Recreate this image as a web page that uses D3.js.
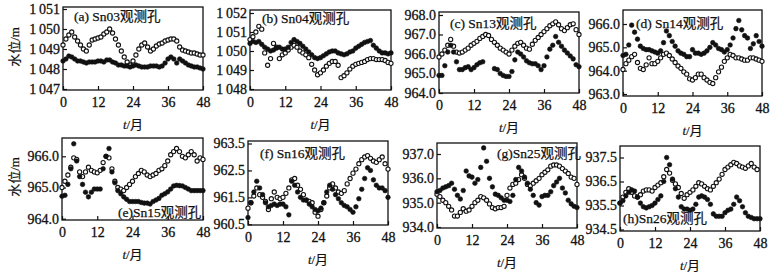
<!DOCTYPE html>
<html>
<head>
<meta charset="utf-8">
<script src="https://cdnjs.cloudflare.com/ajax/libs/d3/7.8.5/d3.min.js"></script>
<style>
    body { margin: 0; background: #fff; }
    svg { display: block; }
    .axis text { font-family: "Liberation Serif", "DejaVu Serif", serif; font-size: 14px; fill: #111; stroke: #111; stroke-width: 0.3; }
    .axis line { stroke: #111; stroke-width: 1.2; }
    .axis path { display: none; }
    .frame { fill: none; stroke: #111; stroke-width: 1.3; }
    .title { font-family: "Liberation Serif", "Noto Sans CJK SC", serif; font-size: 13.5px; fill: #111; stroke: #111; stroke-width: 0.25; }
    .label { font-family: "Liberation Serif", "Noto Sans CJK SC", serif; font-size: 13px; fill: #111; stroke: #111; stroke-width: 0.2; }
    .open { fill: #fff; stroke: #111; stroke-width: 1.1; }
    .filled { fill: #111; stroke: #111; stroke-width: 0.6; }
</style>
</head>
<body>
<div id="vis"></div>
<script>
// months 0..48 (x axis) and the ticks shown on it
var months = d3.range(0, 49);
var monthTicks = [0, 12, 24, 36, 48];

// water levels, one value per month (null = no reading)
var sn03Open = [1049.2, 1049.5, 1049.7, 1049.85, 1049.6, 1049.4, 1049.2, 1049.0, 1048.9, 1049.2,
    1049.45, 1049.5, 1049.55, 1049.6, 1049.75, 1049.85, 1050.0, 1049.8, 1049.5, 1049.2,
    1048.9, 1048.6, 1048.35, 1048.2, 1048.4, 1048.7, 1049.0, 1049.2, 1049.3, 1049.1,
    1048.9, 1049.0, 1049.15, 1049.25, 1049.3, 1049.4, 1049.45, 1049.5, 1049.5, 1049.4,
    1049.1, 1048.95, 1048.9, 1048.85, 1048.8, 1048.8, 1048.75, 1048.7, 1048.7];
var sn03Filled = [1048.4, 1048.5, 1048.65, 1048.6, 1048.5, 1048.4, 1048.4, 1048.35, 1048.3, 1048.35,
    1048.35, 1048.35, 1048.4, 1048.4, 1048.35, 1048.45, 1048.45, 1048.35, 1048.3, 1048.2,
    1048.2, 1048.15, 1048.15, 1048.1, 1048.15, 1048.2, 1048.15, 1048.1, 1048.1, 1048.1,
    1048.15, 1048.15, 1048.15, 1048.1, 1048.15, 1048.3, 1048.5, 1048.6, 1048.5, 1048.3,
    1048.5, 1048.4, 1048.3, 1048.2, 1048.15, 1048.1, 1048.1, 1048.05, 1048.0];

var sn04Open = [1050.6, 1050.75, 1051.0, 1051.3, 1051.15, 1049.9, 1049.25, 1049.6, 1050.4, 1050.2,
    1049.6, 1049.8, 1049.9, 1050.05, 1050.2, 1050.3, 1050.2, 1050.0, 1049.9, 1049.8,
    1049.65, 1049.3, 1049.0, 1048.75, 1048.85, 1049.0, 1049.2, 1049.35, 1049.45, 1049.45,
    1049.25, 1048.6, 1048.7, 1048.85, 1049.05, 1049.2, 1049.3, 1049.35, 1049.4, 1049.45,
    1049.55, 1049.6, 1049.6, 1049.55, 1049.55, 1049.55, 1049.5, 1049.4, 1049.35];
var sn04Filled = [1050.4, 1050.5, 1050.45, 1050.5, 1050.35, 1050.2, 1050.1, 1050.0, 1050.05, 1050.15,
    1050.2, 1050.1, 1050.1, 1050.2, 1050.45, 1050.6, 1050.5, 1050.4, 1050.25, 1050.1,
    1049.95, 1049.8, 1049.65, 1049.6, 1049.65, 1049.75, 1049.85, 1049.95, 1050.0, 1050.0,
    1049.9, 1049.85, 1049.8, 1049.85, 1049.95, 1050.0, 1050.15, 1050.25, 1050.35, 1050.45,
    1050.5, 1050.55, 1050.3, 1050.15, 1050.0, 1049.9, 1049.9, 1049.85, 1049.9];

var sn13Open = [965.85, 966.0, 966.2, 966.45, 966.75, 966.4, 966.1, 966.05, 966.1, 966.2,
    966.3, 966.45, 966.55, 966.65, 966.8, 966.9, 967.0, 966.95, 966.75, 966.6,
    966.45, 966.3, 966.2, 966.1, 966.0, 966.2, 966.4, 966.55, 966.6, 966.45,
    966.3, 966.25, 966.5, 966.7, 966.85, 967.0, 967.15, 967.3, 967.45, 967.55,
    967.65, 967.5, 967.3, 967.2, 967.35, 967.5, 967.55, 967.25, 967.0];
var sn13Filled = [964.9, 964.9, 965.4, 966.1, 966.45, 966.1, 965.6, 965.2, 965.2, 965.3,
    965.35, 965.2, 965.3, 965.45, 965.55, 965.6, null, null, null, 965.25,
    965.2, 965.0, 964.9, 964.85, 964.85, 965.1, 965.7, 966.1, 966.0, 965.85,
    965.65, 965.55, 965.5, 965.5, 965.4, 965.2, 965.4, 965.85, 966.25, 966.45,
    966.9, 966.6, 966.4, 966.2, 966.05, 965.9, 965.75, 965.45, 965.35];

var sn14Open = [964.05, 964.3, 964.45, 964.6, 964.7, 964.35, 964.1, 964.05, 964.25, 964.55,
    964.3, 964.3, 964.4, 964.55, 964.7, 964.75, 964.65, 964.5, 964.35, 964.2,
    964.1, 963.95, 963.85, 963.65, 963.6, 963.7, 963.85, 963.85, 963.7, 963.6,
    963.5, 963.45, 963.7, 963.95, 964.15, 964.4, 964.55, 964.7, 964.65, 964.55,
    964.55, 964.5, 964.45, 964.45, 964.55, 964.55, 964.5, 964.45, 964.4];
var sn14Filled = [964.65, 964.7, 965.1, 965.95, 965.65, 965.35, 965.05, 964.95, 964.9, 964.9,
    964.85, 964.8, 964.75, 964.85, 965.2, 965.7, 965.5, 965.25, 965.05, 964.85,
    964.75, 964.7, 964.6, 964.6, 964.9, 964.75, 964.75, 964.7, 964.75, 964.85,
    965.0, 965.2, 965.1, 964.95, 964.9, 964.8, 964.9, 965.1, 965.4, 965.8,
    966.15, 965.75, 965.5, 965.4, 964.95, 965.15, 965.5, 965.25, 965.05];

var sn15Open = [965.0, 965.2, 965.4, 965.65, 965.95, 965.9, 965.5, 965.35, 965.5, 965.65,
    965.55, 965.5, 965.47, 965.55, 965.8, 966.0, 965.95, 965.6, 965.2, 965.0,
    964.95, 964.9, 965.0, 965.1, 965.2, 965.35, 965.45, 965.55, 965.5, 965.4,
    965.35, 965.4, 965.45, 965.55, 965.6, 965.7, 965.85, 966.05, 966.15, 966.25,
    966.15, 966.0, 965.95, 966.05, 966.15, 966.05, 965.85, 965.95, 965.9];
var sn15Filled = [964.72, 964.75, 965.1, 965.6, 966.4, 965.85, 965.35, 965.1, 964.85, 964.7,
    964.85, 964.95, 964.95, 964.95, 965.6, 966.0, 966.25, 965.5, 965.15, 964.9,
    964.8, 964.7, 964.62, 964.55, 964.55, 964.55, 964.55, 964.52, 964.5, 964.5,
    964.47, 964.55, 964.6, 964.65, 964.75, 964.8, 964.86, 964.95, 965.05, 965.07,
    965.06, 965.05, 965.0, 964.95, 964.9, 964.9, 964.9, 964.9, 964.9];

var sn16Open = [961.1, 961.3, 961.55, 961.85, 961.6, 961.5, 961.35, 961.05, 961.45, 961.7,
    961.5, 961.45, 961.5, 961.65, 961.85, 962.15, 962.2, 961.95, 961.8, 961.6,
    961.4, 961.35, 961.3, 960.95, 960.8, 961.05, 961.3, 961.55, 961.85, 962.0,
    961.85, 961.7, 961.65, 961.75, 962.0, 962.2, 962.4, 962.55, 962.75, 962.9,
    963.0, 963.05, 962.95, 962.85, 962.8, 962.9, 963.0, 962.75, 962.55];
var sn16Filled = [960.75, 961.3, 961.7, 962.1, 961.85, 961.6, 961.3, 961.15, 961.2, 961.25,
    961.2, 961.25, 961.25, 961.15, 960.85, 962.1, 961.95, 961.7, 961.5, 961.4,
    961.4, 961.25, 961.15, 961.05, 961.0, 961.1, 961.3, 961.7, 961.95, 961.8,
    961.6, 961.45, 961.3, 961.2, 961.15, 961.05, 960.95, 961.15, 961.45, 961.8,
    962.2, 962.6, 962.5, 962.15, 961.95, 961.85, 961.85, 961.75, 961.5];

var sn25Open = [935.35, 935.25, 935.1, 935.0, 934.85, 934.7, 934.45, 934.45, 934.6, 934.75,
    934.65, 934.7, 934.85, 935.0, 935.1, 935.25, 935.2, 935.1, 934.95, 934.8,
    934.75, 934.8, 934.8, 934.85, 935.3, 935.6, 935.75, 935.8, 935.95, 936.15,
    936.0, 935.75, 935.7, 935.8, 935.9, 936.0, 936.15, 936.25, 936.35, 936.5,
    936.55, 936.55, 936.5, 936.4, 936.3, 936.2, 936.05, 936.0, 935.75];
var sn25Filled = [935.45, 935.5, 935.6, 935.65, 935.7, 935.8, 935.55, 935.3, 935.15, 935.5,
    936.3, 936.1, 936.05, 935.8, 935.95, 936.45, 937.25, 936.7, 936.0, 935.65,
    935.35, 935.3, 935.2, 935.1, 935.1, 935.05, 935.3, 935.95, 936.45, 936.3,
    936.05, 935.8, 935.55, 935.3, 935.0, 934.9, 935.25, 935.3, 935.3, 935.45,
    935.7, 935.85, 936.0, 935.6, 935.4, 935.1, 934.95, 934.85, 934.8];

var sn26Open = [935.6, 935.85, 936.05, 936.2, 936.05, 935.9, 935.85, 935.95, 936.1, 936.15,
    936.15, 936.1, 936.25, 936.35, 936.45, 936.7, 937.0, 936.85, 936.55, 936.4,
    936.25, 936.0, 935.8, 935.95, 936.05, 936.15, 936.3, 936.45, 936.4, 936.3,
    936.2, 936.15, 936.3, 936.45, 936.6, 936.8, 937.0, 937.1, 937.2, 937.3,
    937.25, 937.15, 937.1, 937.05, 937.15, 937.25, 937.1, 937.0, null];
var sn26Filled = [935.6, 935.7, 935.9, 936.05, 936.15, 936.1, 935.85, 935.6, 935.45, 935.4,
    935.45, 935.5, 935.6, 935.75, 935.9, 936.5, 937.5, 937.2, 936.6, 936.2,
    935.85, 935.45, 935.35, 935.35, 935.3, 935.35, 935.55, 935.85, 935.9, 935.85,
    935.75, 935.55, 935.15, 935.05, 935.05, 935.05, 935.2, 935.3, 935.35, 935.55,
    935.85, 935.7, 935.45, 935.2, 935.05, 935.0, 934.95, 934.95, 934.95];

// y tick values and their printed labels for each well
var sn03Ticks = [1047, 1048, 1049, 1050, 1051];
var sn03TickLabels = ['1\u2009047', '1\u2009048', '1\u2009049', '1\u2009050', '1\u2009051'];
var sn04Ticks = [1048, 1049, 1050, 1051, 1052];
var sn04TickLabels = ['1\u2009048', '1\u2009049', '1\u2009050', '1\u2009051', '1\u2009052'];
var sn13Ticks = [964, 965, 966, 967, 968];
var sn14Ticks = [963, 964, 965, 966];
var sn15Ticks = [964, 965, 966];
var sn16Ticks = [960.5, 961.5, 962.5, 963.5];
var sn25Ticks = [934, 935, 936, 937];
var sn26Ticks = [934.5, 935.5, 936.5, 937.5];

var titles = ['(a) Sn03观测孔', '(b) Sn04观测孔', '(c) Sn13观测孔', '(d) Sn14观测孔',
    '(e)Sn15观测孔', '(f) Sn16观测孔', '(g)Sn25观测孔', '(h)Sn26观测孔'];

var fmt1 = d3.format('.1f');
var panels = [
    {open: sn03Open, filled: sn03Filled, ticks: sn03Ticks, labels: sn03TickLabels},
    {open: sn04Open, filled: sn04Filled, ticks: sn04Ticks, labels: sn04TickLabels},
    {open: sn13Open, filled: sn13Filled, ticks: sn13Ticks, labels: sn13Ticks.map(fmt1)},
    {open: sn14Open, filled: sn14Filled, ticks: sn14Ticks, labels: sn14Ticks.map(fmt1)},
    {open: sn15Open, filled: sn15Filled, ticks: sn15Ticks, labels: sn15Ticks.map(fmt1)},
    {open: sn16Open, filled: sn16Filled, ticks: sn16Ticks, labels: sn16Ticks.map(fmt1)},
    {open: sn25Open, filled: sn25Filled, ticks: sn25Ticks, labels: sn25Ticks.map(fmt1)},
    {open: sn26Open, filled: sn26Filled, ticks: sn26Ticks, labels: sn26Ticks.map(fmt1)}
];

// Frame of each panel in pixels; yTop/yBottom = pixel rows of the first/last y tick
var boxes = [
    {left: 63, right: 203, top: 7, bottom: 90, yTop: 9, yBottom: 89, tx: 74, ty: 21},
    {left: 250, right: 391, top: 10, bottom: 90, yTop: 13, yBottom: 89, tx: 262, ty: 23},
    {left: 439, right: 579, top: 12, bottom: 93, yTop: 15, yBottom: 93, tx: 450, ty: 28},
    {left: 623, right: 762, top: 10, bottom: 96, yTop: 24, yBottom: 94, tx: 636, ty: 28},
    {left: 62, right: 203, top: 138, bottom: 220, yTop: 156.3, yBottom: 218.7, tx: 118, ty: 217},
    {left: 248, right: 388, top: 141, bottom: 225, yTop: 143.5, yBottom: 224.3, tx: 260, ty: 158},
    {left: 437, right: 577, top: 143, bottom: 228, yTop: 154, yBottom: 227, tx: 497, ty: 158},
    {left: 620, right: 760, top: 146, bottom: 231, yTop: 157.5, yBottom: 229.5, tx: 623, ty: 223}
];

var width = 784;
var height = 274;

var svg = d3.select('#vis')
    .append('svg')
    .attr('width', width)
    .attr('height', height);

svg.append('rect').attr('width', width).attr('height', height).attr('fill', '#fff');

panels.forEach(function(p, i) {
    var b = boxes[i];
    var g = svg.append('g');

    var xScale = d3.scaleLinear().domain([0, 48]).range([b.left, b.right]);
    var yScale = d3.scaleLinear()
        .domain([p.ticks[0], p.ticks[p.ticks.length - 1]])
        .range([b.yBottom, b.yTop]);

    // frame
    g.append('rect')
        .attr('class', 'frame')
        .attr('x', b.left)
        .attr('y', b.top)
        .attr('width', b.right - b.left)
        .attr('height', b.bottom - b.top);

    // inward ticks
    var xAxis = d3.axisBottom(xScale)
        .tickValues(monthTicks)
        .tickSize(-4)
        .tickPadding(7);
    g.append('g')
        .attr('class', 'axis')
        .attr('transform', 'translate(0,' + b.bottom + ')')
        .call(xAxis);

    var yAxis = d3.axisLeft(yScale)
        .tickValues(p.ticks)
        .tickSize(-4)
        .tickPadding(3)
        .tickFormat(function(d, k) { return p.labels[k]; });
    g.append('g')
        .attr('class', 'axis')
        .attr('transform', 'translate(' + b.left + ',0)')
        .call(yAxis);

    // points
    var openPts = months.map(function(t, k) { return {t: t, v: p.open[k]}; })
        .filter(function(d) { return d.v != null; });
    var filledPts = months.map(function(t, k) { return {t: t, v: p.filled[k]}; })
        .filter(function(d) { return d.v != null; });

    g.selectAll('circle.open').data(openPts).enter().append('circle')
        .attr('class', 'open')
        .attr('cx', function(d) { return xScale(d.t); })
        .attr('cy', function(d) { return yScale(d.v); })
        .attr('r', 2.1);

    g.selectAll('circle.filled').data(filledPts).enter().append('circle')
        .attr('class', 'filled')
        .attr('cx', function(d) { return xScale(d.t); })
        .attr('cy', function(d) { return yScale(d.v); })
        .attr('r', 2.3);

    // panel title
    g.append('text')
        .attr('class', 'title')
        .attr('x', b.tx)
        .attr('y', b.ty)
        .text(titles[i]);

    // x axis title
    var xt = g.append('text')
        .attr('class', 'label')
        .attr('text-anchor', 'middle')
        .attr('x', (b.left + b.right) / 2)
        .attr('y', b.bottom + 39);
    xt.append('tspan').attr('font-style', 'italic').text('t');
    xt.append('tspan').text('/月');
});

// y axis titles, one per row
[47, 177].forEach(function(cy) {
    svg.append('text')
        .attr('class', 'label')
        .attr('text-anchor', 'middle')
        .attr('transform', 'translate(19,' + cy + ') rotate(-90)')
        .text('水位/m');
});
</script>
</body>
</html>
